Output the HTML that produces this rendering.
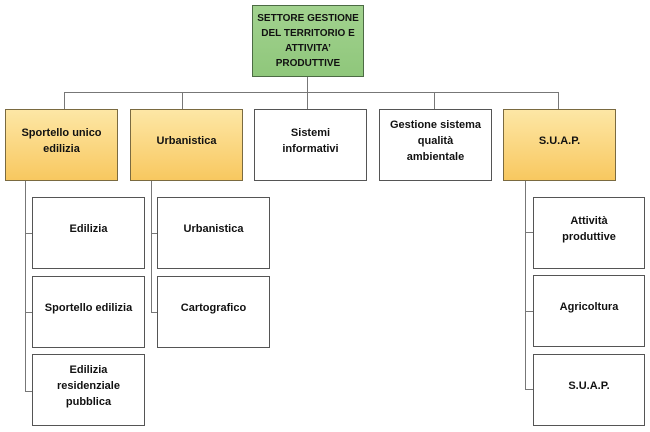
<!DOCTYPE html>
<html><head><meta charset="utf-8"><style>
body{margin:0;width:650px;height:432px;background:#fff;position:relative;overflow:hidden;font-family:"Liberation Sans",sans-serif}
.b{position:absolute;box-sizing:border-box;border:1px solid #555;background:#fff;display:flex;align-items:center;justify-content:center;text-align:center;font-weight:bold;font-size:11px;line-height:16px;color:#111;padding:0 4px 8px}
.n{padding-left:20px;padding-right:20px}
.y{background:linear-gradient(#fde7a6,#f8c860);border-color:#7a6a40}
.g{background:linear-gradient(#a2d28f,#8fc77b);border-color:#4c6b44;font-size:10px;line-height:15px;padding:0 4px}
.l{position:absolute;background:#777}
</style></head><body>
<div class="b g" style="left:252px;top:5px;width:112px;height:72px">SETTORE GESTIONE DEL TERRITORIO E ATTIVITA’ PRODUTTIVE</div>
<div class="l" style="left:307px;top:77px;width:1px;height:32px"></div>
<div class="l" style="left:64px;top:92px;width:495px;height:1px"></div>
<div class="l" style="left:64px;top:92px;width:1px;height:17px"></div>
<div class="l" style="left:182px;top:92px;width:1px;height:17px"></div>
<div class="l" style="left:434px;top:92px;width:1px;height:17px"></div>
<div class="l" style="left:558px;top:92px;width:1px;height:17px"></div>
<div class="b y" style="left:5px;top:109px;width:113px;height:72px">Sportello unico edilizia</div>
<div class="b y" style="left:130px;top:109px;width:113px;height:72px">Urbanistica</div>
<div class="b n" style="left:254px;top:109px;width:113px;height:72px">Sistemi informativi</div>
<div class="b n" style="left:379px;top:109px;width:113px;height:72px;padding-left:6px;padding-right:6px">Gestione sistema<br>qualità<br>ambientale</div>
<div class="b y" style="left:503px;top:109px;width:113px;height:72px">S.U.A.P.</div>
<div class="l" style="left:25px;top:181px;width:1px;height:211px"></div>
<div class="l" style="left:25px;top:233px;width:8px;height:1px"></div>
<div class="l" style="left:25px;top:312px;width:8px;height:1px"></div>
<div class="l" style="left:25px;top:391px;width:8px;height:1px"></div>
<div class="l" style="left:151px;top:181px;width:1px;height:132px"></div>
<div class="l" style="left:151px;top:233px;width:7px;height:1px"></div>
<div class="l" style="left:151px;top:312px;width:7px;height:1px"></div>
<div class="l" style="left:525px;top:181px;width:1px;height:209px"></div>
<div class="l" style="left:525px;top:232px;width:8px;height:1px"></div>
<div class="l" style="left:525px;top:311px;width:8px;height:1px"></div>
<div class="l" style="left:525px;top:389px;width:8px;height:1px"></div>
<div class="b" style="left:32px;top:197px;width:113px;height:72px">Edilizia</div>
<div class="b" style="left:32px;top:276px;width:113px;height:72px">Sportello edilizia</div>
<div class="b" style="left:32px;top:354px;width:113px;height:72px">Edilizia<br>residenziale<br>pubblica</div>
<div class="b" style="left:157px;top:197px;width:113px;height:72px">Urbanistica</div>
<div class="b" style="left:157px;top:276px;width:113px;height:72px">Cartografico</div>
<div class="b" style="left:533px;top:197px;width:112px;height:72px">Attività<br>produttive</div>
<div class="b" style="left:533px;top:275px;width:112px;height:72px">Agricoltura</div>
<div class="b" style="left:533px;top:354px;width:112px;height:72px">S.U.A.P.</div>
</body></html>
